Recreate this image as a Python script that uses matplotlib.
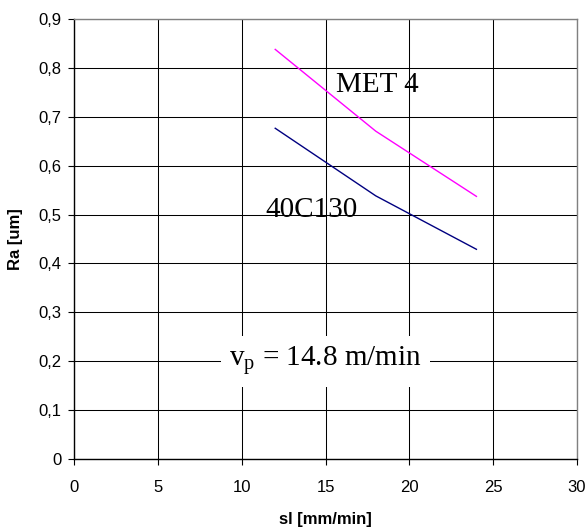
import matplotlib
matplotlib.use("Agg")
import matplotlib.pyplot as plt

plt.rcParams["font.family"] = ["Liberation Sans", "DejaVu Sans"]
plt.rcParams["mathtext.fontset"] = "custom"
plt.rcParams["mathtext.rm"] = "Liberation Serif"

# feed rate [mm/min]
sl = [12, 18, 24]
# surface roughness Ra [um]
ra_met4 = [0.837, 0.670, 0.537]
ra_40c130 = [0.676, 0.538, 0.429]

x_ticks = [0, 5, 10, 15, 20, 25, 30]
y_ticks = [0, 0.1, 0.2, 0.3, 0.4, 0.5, 0.6, 0.7, 0.8, 0.9]
y_tick_labels = ["0", "0,1", "0,2", "0,3", "0,4", "0,5", "0,6", "0,7", "0,8", "0,9"]

fig = plt.figure(figsize=(5.88, 5.32), dpi=100)
ax = fig.add_axes([0.1259, 0.1363, 0.8554, 0.8289])

ax.plot(sl, ra_met4, color="#FF00FF", lw=1.0, zorder=3)
ax.plot(sl, ra_40c130, color="#000080", lw=1.0, zorder=3)

ax.set_xlim(0, 30)
ax.set_ylim(0, 0.9)
ax.set_xticks(x_ticks)
ax.set_yticks(y_ticks)
ax.set_yticklabels(y_tick_labels)
ax.grid(True, color="black", lw=0.75)
ax.set_axisbelow(True)

ax.tick_params(axis="both", direction="out", length=4, width=0.8, labelsize=12)
ax.tick_params(axis="x", pad=11)
ax.tick_params(axis="y", pad=5)
for side in ["left", "bottom"]:
    ax.spines[side].set_color("black")
    ax.spines[side].set_linewidth(1.0)
for side in ["top", "right"]:
    ax.spines[side].set_color("#808080")
    ax.spines[side].set_linewidth(1.0)

ax.set_xlabel("sl [mm/min]", fontsize=12, fontweight="bold")
ax.set_ylabel("Ra [um]", fontsize=12, fontweight="bold")
ax.xaxis.set_label_coords(0.5, -0.118)
ax.yaxis.set_label_coords(-0.101, 0.5)

serif = ["Liberation Serif", "DejaVu Serif"]
ax.text(18.07, 0.765, "MET 4", family=serif, fontsize=21, ha="center", va="center", zorder=4)
ax.text(14.17, 0.51, "40C130", family=serif, fontsize=21, ha="center", va="center", zorder=4)
ax.text(15.0, 0.2, r"v$_\mathrm{p}$ = 14.8 m/min", family=serif, fontsize=21,
        ha="center", va="center", zorder=4,
        bbox=dict(facecolor="white", edgecolor="none", pad=6))

fig.savefig("out.png", dpi=100)
